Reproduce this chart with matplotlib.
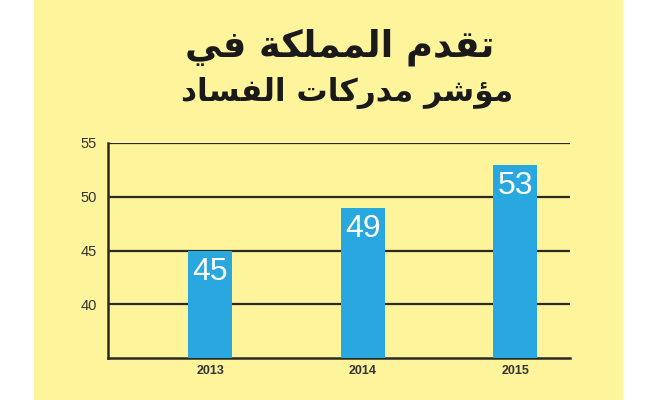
import matplotlib
matplotlib.use("Agg")
import matplotlib.pyplot as plt
from matplotlib.patches import Rectangle

years = ["2013", "2014", "2015"]
scores = [45, 49, 53]
yticks = [40, 45, 50, 55]

# Arabic title, pre-shaped into presentation forms (visual left-to-right order)
line1 = "تقدم المملكة في"
line2 = "مؤشر مدركات الفساد"
line1_vis = "\uFEF2\uFED3 \uFE94\uFEDC\uFEE0\uFEE4\uFEE4\uFEDF\uFE8D \uFEE1\uFEAA\uFED8\uFE97"
line2_vis = "\uFEA9\uFE8E\uFEB4\uFED4\uFEDF\uFE8D \uFE95\uFE8E\uFEDB\uFEAD\uFEAA\uFEE3 \uFEAE\uFEB7\uFE86\uFEE3"

yellow = "#FEF49C"
blue = "#29A8E0"
dark = "#2b2a22"
plt.rcParams['font.family'] = ['Liberation Sans', 'DejaVu Sans']

fig = plt.figure(figsize=(6.58, 4.0), dpi=100)
fig.patch.set_facecolor("white")
fig.patches.append(Rectangle((34/658, 0), (623-34)/658, 1, transform=fig.transFigure,
                             facecolor=yellow, edgecolor="none", zorder=0))

ax = fig.add_axes([108/658, 42/400, (570-108)/658, (358-143)/400])
ax.set_zorder(3)
ax.set_facecolor("none")
x = list(range(len(years)))
ax.bar(x, scores, width=0.29, bottom=0, color=blue, zorder=3)
for xi, v in zip(x, scores):
    ax.text(xi, v - 0.65, str(v), ha="center", va="top", color="white",
            fontsize=23, zorder=4)

ax.set_ylim(35, 55)
ax.set_xlim(-0.67, 2.36)
ax.set_yticks(yticks)
ax.yaxis.grid(True, color=dark, linewidth=1.6, zorder=1)
ax.set_axisbelow(True)
ax.tick_params(axis="y", length=0, labelsize=10.5, labelcolor="#333333", pad=8)
ax.tick_params(axis="x", length=0, pad=5)
ax.set_xticks(x)
ax.set_xticklabels(years, fontsize=9, fontweight="bold", color="#333333")
for s in ["top", "right"]:
    ax.spines[s].set_visible(False)
for s in ["left", "bottom"]:
    ax.spines[s].set_color(dark)
    ax.spines[s].set_linewidth(1.8)

fig.text(340/658, 1 - 47/400, line1_vis, ha="center", va="center", zorder=5,
         fontsize=26.5, fontweight="bold", color="#1a1a1a", family=["DejaVu Sans"])
fig.text(347/658, 1 - 93/400, line2_vis, ha="center", va="center", zorder=5,
         fontsize=22.5, fontweight="bold", color="#1a1a1a", family=["DejaVu Sans"])

fig.savefig("out.png", dpi=100, facecolor=fig.get_facecolor())
